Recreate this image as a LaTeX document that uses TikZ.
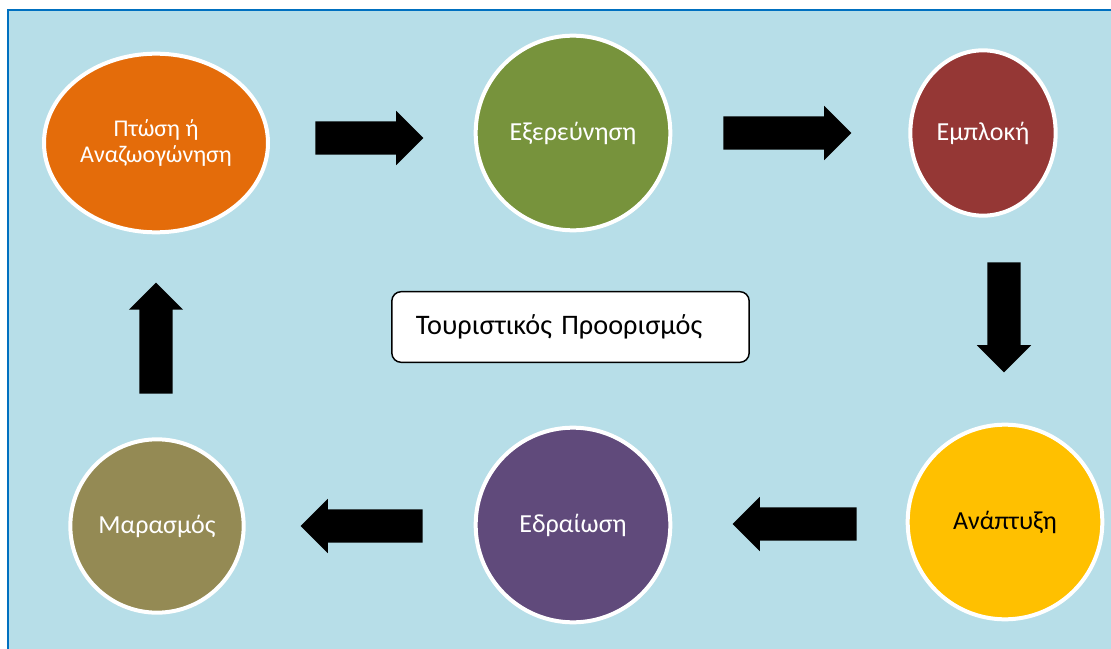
\documentclass[tikz,border=0pt]{standalone}
\usepackage{fontspec}
\setmainfont{Carlito}
\usepackage{tikz}
\usetikzlibrary{shapes.geometric, shapes.arrows}
\definecolor{FrameBlue}{RGB}{0, 112, 192}
\definecolor{SeaLight}{RGB}{183, 222, 232}
\definecolor{StageOrange}{RGB}{228, 108, 10}
\definecolor{StageGreen}{RGB}{119, 147, 60}
\definecolor{StageRed}{RGB}{149, 55, 53}
\definecolor{StageYellow}{RGB}{255, 192, 0}
\definecolor{StagePurple}{RGB}{96, 74, 123}
\definecolor{StageOlive}{RGB}{148, 138, 84}

\begin{document}
\begin{tikzpicture}[
    x=0.75pt, y=-0.75pt,
    stage/.style={circle, draw=white, line width=3pt, text=white, align=center, inner sep=0pt, minimum size=146pt, font=\fontsize{19.5}{22}\selectfont},
    oval/.style={ellipse, draw=white, line width=3pt, text=white, align=center, inner sep=0pt, font=\fontsize{19.5}{22}\selectfont},
    blockarrow/.style={single arrow, fill=black, draw=none, inner sep=12.2pt, single arrow head extend=7.9pt, single arrow tip angle=90, anchor=tail},
    titlebox/.style={rectangle, rounded corners=7pt, draw=black, line width=1.1pt, fill=white, align=left, inner xsep=18pt, font=\fontsize{21.2}{25}\selectfont}
]
\useasboundingbox (0,0) rectangle (1111,649);
\clip (0,0) rectangle (1111,649);
\fill[white] (0,0) rectangle (1111,649);
\draw[FrameBlue, fill=SeaLight, line width=1.5pt] (8,10) rectangle (1130,670);

\node[oval, fill=StageOrange, minimum width=168pt, minimum height=134pt, font=\fontsize{18}{19.5}\selectfont] (decline) at (156,143) {Πτώση ή\\Αναζωογώνηση};
\node[stage, fill=StageGreen] (explore) at (573,133) {Εξερεύνηση};
\node[oval, fill=StageRed, minimum width=109pt, minimum height=124pt] (involve) at (983,133) {Εμπλοκή};
\node[stage, fill=StageYellow, text=black] (develop) at (1005,522) {Ανάπτυξη};
\node[stage, fill=StagePurple] (settle) at (573,525) {Εδραίωση};
\node[stage, fill=StageOlive, minimum size=130pt] (stagnate) at (157,526) {Μαρασμός};

\node[titlebox, minimum width=268pt, minimum height=53pt, text width=232pt] (dest) at (570.5,327) {Τουριστικός Προορισμός};

\node[blockarrow, minimum height=81pt] (arrA) at (315,138) {};
\node[blockarrow, minimum height=96pt] (arrB) at (723,133) {};
\node[blockarrow, rotate=-90, minimum height=82.5pt] (arrC) at (1004,262) {};
\node[blockarrow, rotate=180, minimum height=93pt] (arrD) at (857,524) {};
\node[blockarrow, rotate=180, minimum height=91.5pt] (arrE) at (423,526) {};
\node[blockarrow, rotate=90, minimum height=83.3pt] (arrF) at (156,394) {};

\end{tikzpicture}
\end{document}
